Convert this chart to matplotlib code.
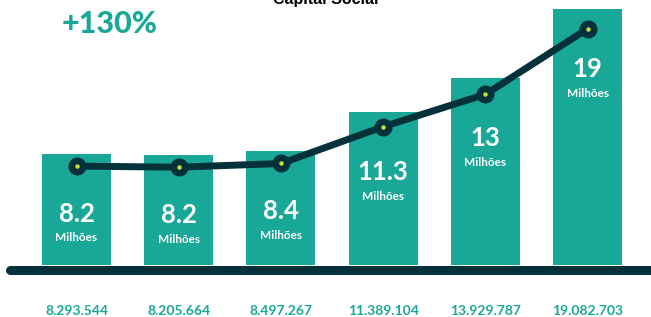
import numpy as np
import matplotlib.pyplot as plt

# values in millions (Capital Social)
valores = [8.293544, 8.205664, 8.497267, 11.389104, 13.929787, 19.082703]
rotulos_bar = ["8.2", "8.2", "8.4", "11.3", "13", "19"]
rotulos_base = ["8.293.544", "8.205.664", "8.497.267", "11.389.104", "13.929.787", "19.082.703"]

teal = "#19a897"
escuro = "#05323a"
lima = "#c9e23a"

plt.rcParams['font.family'] = ['Lato', 'DejaVu Sans']

fig = plt.figure(figsize=(6.51, 3.17), dpi=100)
ax = fig.add_axes([0, 0, 1, 1])
x = np.arange(len(valores))

ax.bar(x, valores, width=0.675, color=teal, zorder=2)
ax.set_xlim(-0.749, 5.62)
ax.set_ylim(-3.88, 19.78)
ax.axis('off')

# baseline
ax.axhline(-0.34, xmin=10 / 651, xmax=1.02, color=escuro, lw=6.5,
           solid_capstyle='round', zorder=3)

for xi, v, lab in zip(x, valores, rotulos_bar):
    ax.annotate(lab, (xi, v), xytext=(0, -60), textcoords='offset pixels',
                ha='center', va='center', color='white', fontsize=18.5,
                fontweight='bold', zorder=5)
    ax.annotate("Milhões", (xi, v), xytext=(0, -84), textcoords='offset pixels',
                ha='center', va='center', color='white', fontsize=8.5,
                fontweight='bold', zorder=5)

for xi, lab in zip(x, rotulos_base):
    ax.text(xi, -3.45, lab, ha='center', va='center', color=teal,
            fontsize=10, fontweight='bold')

# trend line on a second scale
ax2 = ax.twinx()
ax2.set_ylim(-3.56, 21.34)
ax2.axis('off')
ax2.plot(x, valores, color=escuro, lw=5, marker='o', ms=12,
         markerfacecolor=escuro, markeredgecolor=escuro, zorder=4)
ax2.plot(x, valores, ls='none', marker='o', ms=2.2, color=lima, zorder=5)

fig.text(110 / 651, 1 - 24 / 317, "+130%", ha='center', va='center',
         color=teal, fontsize=22, fontweight='black')
fig.text(0.5, 1 - 4 / 317, "Capital Social", ha='center', va='baseline',
         color='black', fontsize=11.5, fontweight='bold',
         family=['Liberation Sans', 'DejaVu Sans'])

fig.savefig("out.png", dpi=100)
